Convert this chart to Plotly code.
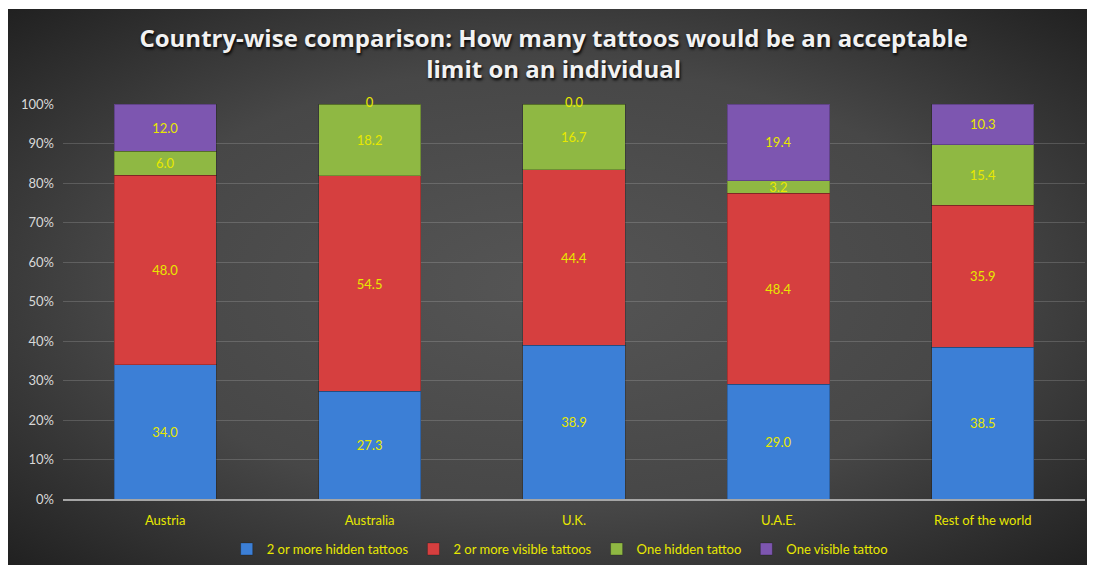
import base64
import plotly.graph_objects as go

countries = ["Austria", "Australia", "U.K.", "U.A.E.", "Rest of the world"]
series_names = ["2 or more hidden tattoos", "2 or more visible tattoos",
                "One hidden tattoo", "One visible tattoo"]
hidden_2plus = [34.0, 27.3, 38.9, 29.0, 38.5]
visible_2plus = [48.0, 54.5, 44.4, 48.4, 35.9]
one_hidden = [6.0, 18.2, 16.7, 3.2, 15.4]
one_visible = [12.0, 0, 0.0, 19.4, 10.3]
one_visible_labels = ["12.0", "0", "0.0", "19.4", "10.3"]
y_ticks = [0, 10, 20, 30, 40, 50, 60, 70, 80, 90, 100]
y_tick_labels = [f"{v}%" for v in y_ticks]

colors = ["#3c7fd6", "#d63f3f", "#8fb843", "#7d56b0"]
label_color = "#e8e800"
font_family = "Lato, 'Open Sans', sans-serif"

series = [hidden_2plus, visible_2plus, one_hidden, one_visible]
fig = go.Figure()
for name, vals, col in zip(series_names, series, colors):
    texts = [f"{v:.1f}" if v > 0 else "" for v in vals]
    fig.add_trace(go.Bar(
        x=countries, y=vals, name=name,
        marker=dict(color=col, line=dict(color="rgba(0,0,0,0.22)", width=1)),
        text=texts, textposition="inside", insidetextanchor="middle",
        textfont=dict(color=label_color, size=13, family=font_family),
        hoverinfo="skip", cliponaxis=False,
    ))

# labels for zero-height segments, placed at the top of the 100% stack
zero_x = [c for c, v in zip(countries, one_visible) if v == 0]
zero_y = [100 for v in one_visible if v == 0]
zero_t = [t for t, v in zip(one_visible_labels, one_visible) if v == 0]
fig.add_trace(go.Scatter(
    x=zero_x, y=zero_y, text=zero_t, mode="text", textposition="middle center",
    textfont=dict(color=label_color, size=13, family=font_family),
    showlegend=False, hoverinfo="skip", cliponaxis=False,
))

svg = (
    '<svg xmlns="http://www.w3.org/2000/svg" width="1000" height="1000" preserveAspectRatio="none">'
    '<defs><radialGradient id="g" cx="50%" cy="50%" r="72%">'
    '<stop offset="0%" stop-color="#555555"/>'
    '<stop offset="55%" stop-color="#474747"/>'
    '<stop offset="100%" stop-color="#1f1f1f"/>'
    '</radialGradient></defs>'
    '<rect width="1000" height="1000" fill="url(#g)"/></svg>'
)
src = "data:image/svg+xml;base64," + base64.b64encode(svg.encode()).decode()

# page has an 8px body margin, so the figure is sized to fit inside it
W, H = 1087, 562
L, R, T, B = 55, 10, 96, 71
pw, ph = W - L - R, H - T - B
x0 = (0 - L) / pw
x1 = (1082 - L) / pw
ytop = (H - B - 1) / ph
ybot = (H - B - 557) / ph

fig.update_layout(
    width=W, height=H,
    margin=dict(l=L, r=R, t=T, b=B, autoexpand=False),
    paper_bgcolor="white",
    plot_bgcolor="rgba(0,0,0,0)",
    barmode="stack",
    barnorm="percent",
    bargap=0.5,
    uniformtext=dict(minsize=13, mode="show"),
    images=[dict(source=src, xref="paper", yref="paper", x=x0, y=ytop,
                 sizex=x1 - x0, sizey=ytop - ybot, sizing="stretch",
                 xanchor="left", yanchor="top", layer="below")],
    title=dict(
        text="Country-wise comparison: How many tattoos would be an acceptable<br>limit on an individual",
        x=0.502, xanchor="center", xref="container",
        y=0.931, yanchor="top", yref="container",
        font=dict(family="'Open Sans', sans-serif", size=24, color="#f2f2f2", weight="bold",
                  shadow="1px 2px 3px #000000"),
    ),
    font=dict(family=font_family),
    legend=dict(
        orientation="h", x=0.486, xanchor="center",
        y=21 / H, yanchor="middle", yref="container",
        font=dict(color=label_color, size=13, family=font_family),
        bgcolor="rgba(0,0,0,0)", itemwidth=30, traceorder="normal",
    ),
    xaxis=dict(
        showgrid=False, showline=True, linecolor="#a6a6a6", linewidth=2,
        tickfont=dict(color=label_color, size=13, family=font_family),
        ticks="", ticklabelstandoff=8, fixedrange=True, automargin=False,
    ),
    yaxis=dict(
        range=[0, 100], tickmode="array", tickvals=y_ticks, ticktext=y_tick_labels,
        showgrid=True, gridcolor="rgba(255,255,255,0.16)", gridwidth=1,
        zeroline=False, showline=False,
        tickfont=dict(color="#d9d9d9", size=13, family=font_family),
        ticks="", ticklabelstandoff=8, fixedrange=True, automargin=False,
    ),
)

fig.write_html("out.html")
